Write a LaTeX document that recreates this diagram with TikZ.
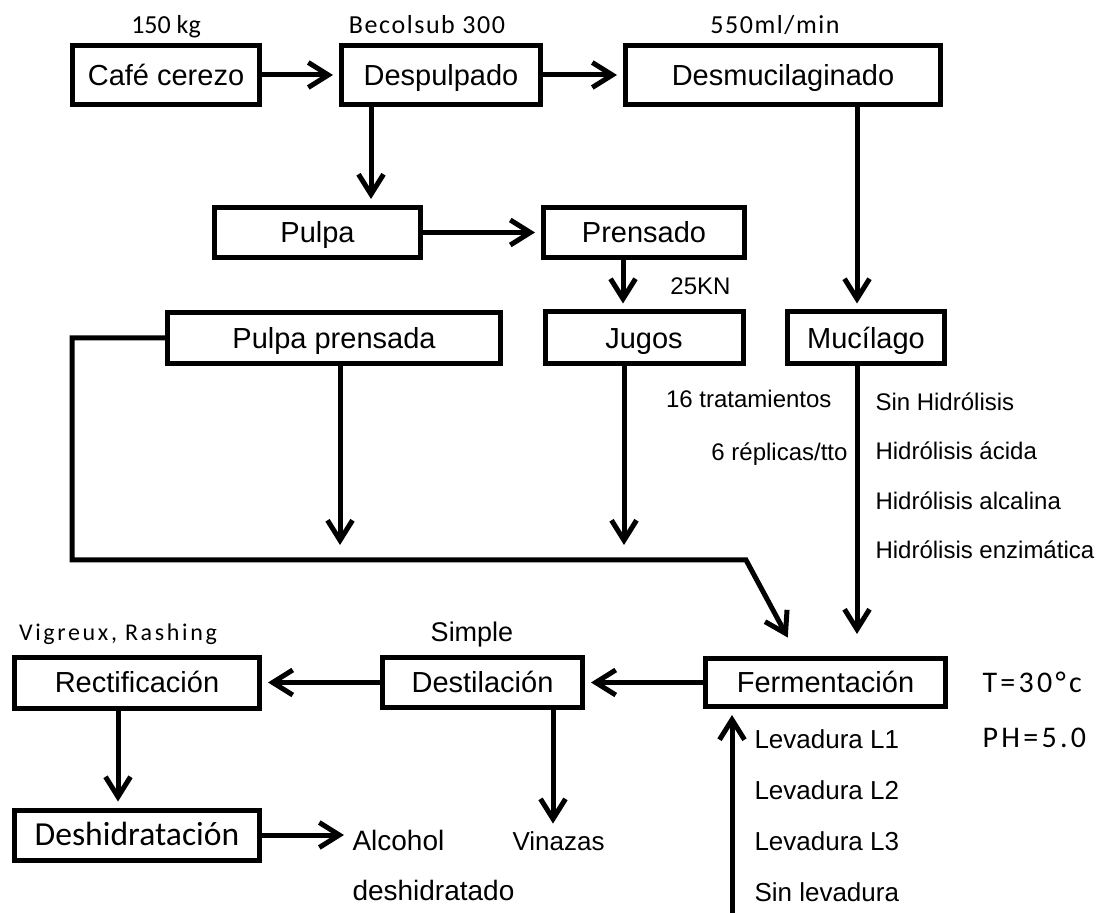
\documentclass[tikz,border=0pt]{standalone}
\usepackage{fontspec}
\setmainfont{Liberation Sans}
\newfontfamily\calib{Carlito}
\newfontfamily\calibesp[LetterSpace=6]{Carlito}
\newfontfamily\calibancho[LetterSpace=11]{Carlito}
\usepackage{tikz}
\usetikzlibrary{positioning,arrows.meta}

\tikzset{
  caja/.style={draw, inner sep=0pt, minimum height=25pt, text height=10.4pt, text depth=0pt, font=\fontsize{14.5}{16}\selectfont},
  etiq/.style={inner sep=0pt, text height=8.5pt, text depth=0pt},
  lista/.style={inner sep=0pt, align=left, anchor=north west},
}

\begin{document}
\begin{tikzpicture}[line width=2.5pt, >={Straight Barb[length=10pt,width=12.5pt]}, shorten >=3pt, on grid]
    \useasboundingbox (0,0) rectangle (548pt,-456.5pt);

    % etapas del proceso
    \node[caja, minimum width=93.5pt, minimum height=29.5pt] (cafe) at (83pt,-37.5pt) {Café cerezo};
    \node[caja, minimum width=99.5pt, minimum height=29.5pt] (desp) [right=137.5pt of cafe] {Despulpado};
    \node[caja, minimum width=157.5pt, minimum height=29.5pt] (desm) [right=171pt of desp] {Desmucilaginado};
    \node[caja, minimum width=103pt] (pulpa) [below left=78.75pt and 61.75pt of desp] {Pulpa};
    \node[caja, minimum width=100.5pt] (prens) [right=163.25pt of pulpa] {Prensado};
    \node[caja, minimum width=166.5pt, minimum height=25.5pt] (pprens) [below right=52.75pt and 8.25pt of pulpa] {Pulpa prensada};
    \node[caja, minimum width=99pt, minimum height=26pt] (jugos) [below=52.75pt of prens] {Jugos};
    \node[caja, minimum width=78.5pt, minimum height=26pt] (mucil) [right=111pt of jugos] {Mucílago};
    \node[caja, minimum width=120pt, minimum height=24pt] (ferm) [below left=172.25pt and 20.25pt of mucil] {Fermentación};
    \node[caja, minimum width=100pt] (dest) [left=171.5pt of ferm] {Destilación};
    \node[caja, minimum width=122.5pt, minimum height=25.5pt] (rect) [left=172.75pt of dest] {Rectificación};
    \node[caja, minimum width=122.5pt, font=\calib\fontsize{16.8}{18}\selectfont] (deshid) [below=76.25pt of rect] {Deshidratación};

    % condiciones
    \node[etiq, font=\calib\fontsize{13}{15}\selectfont] (kg) [above=25pt of cafe] {150 kg};
    \node[etiq, font=\calibesp\fontsize{13}{15}\selectfont] (becol) [above left=25pt and 7pt of desp] {Becolsub 300};
    \node[etiq, font=\calibesp\fontsize{13}{15}\selectfont] (flujo) [above left=25pt and 4pt of desm] {550ml/min};
    \node[etiq, font=\fontsize{12}{14}\selectfont] (fuerza) [above right=25.75pt and 28.25pt of jugos] {25KN};
    \node[etiq, font=\fontsize{13.5}{16}\selectfont] (simple) [above left=24.75pt and 5.25pt of dest] {Simple};
    \node[etiq, text height=7.7pt, font=\calibancho\fontsize{12}{14}\selectfont] (vig) [above left=25pt and 9.5pt of rect] {Vigreux, Rashing};
    \node[etiq, anchor=west, text height=9.7pt, font=\calibancho\fontsize{15}{18}\selectfont] (temp) at (490pt,-341.5pt) {T=30°c};
    \node[etiq, anchor=west, text height=9.7pt, font=\calibancho\fontsize{15}{18}\selectfont] (ph) at (490pt,-369pt) {PH=5.0};
    \node[etiq, anchor=east, font=\fontsize{12}{14}\selectfont] (trat) at (417pt,-199.5pt) {16 tratamientos};
    \node[etiq, anchor=east, font=\fontsize{12}{14}\selectfont] (repl) at (425pt,-226pt) {6 réplicas/tto};
    \node[lista, font=\fontsize{12}{24.8}\selectfont] (hidr) at (436.5pt,-195pt) {Sin Hidrólisis\\Hidrólisis ácida\\Hidrólisis alcalina\\Hidrólisis enzimática};
    \node[lista, font=\fontsize{13}{25.5}\selectfont] (lev) at (376pt,-363.5pt) {Levadura L1\\Levadura L2\\Levadura L3\\Sin levadura};
    \node[lista, font=\fontsize{14}{25}\selectfont] (alc) at (175pt,-414pt) {Alcohol\\deshidratado};
    \node[lista, font=\fontsize{13}{25}\selectfont] (vin) at (255pt,-414.8pt) {Vinazas};

    % extremos libres
    \coordinate (ppfin) at (170pt,-275.5pt);
    \coordinate (jgfin) at (312pt,-275.5pt);
    \coordinate (levin) at (366pt,-456.5pt);
    \coordinate (codo) at (36pt,-280pt);
    \coordinate (quiebre) at (373pt,-280pt);

    \path[->]
    (cafe) edge (desp)
    (desp) edge (desm)
    ([xshift=-35pt]desp.south) edge ([xshift=-35pt]desp.south |- pulpa.north)
    (pulpa) edge (prens)
    ([xshift=-10.5pt]prens.south) edge ([xshift=-10.5pt]prens.south |- jugos.north)
    ([xshift=37pt]desm.south) edge ([xshift=37pt]desm.south |- mucil.north)
    ([xshift=-4.5pt]mucil.south) edge [shorten >=11pt] ([xshift=-4.5pt]mucil.south |- ferm.north)
    (pprens.south -| ppfin) edge (ppfin)
    (jugos.south -| jgfin) edge (jgfin)
    (ferm) edge (dest)
    (dest) edge (rect)
    ([xshift=-9.5pt]rect.south) edge ([xshift=-9.5pt]rect.south |- deshid.north)
    (deshid.east) edge (deshid.east -| alc.west)
    ([xshift=35.25pt]dest.south) edge ([xshift=35.25pt]dest.south |- vin.north)
    (levin) edge (levin |- ferm.south);

    \draw[->, shorten >=10.5pt] (pprens.west) -| (codo) -- (quiebre) -- ([xshift=-13.9pt]ferm.north);
\end{tikzpicture}
\end{document}
